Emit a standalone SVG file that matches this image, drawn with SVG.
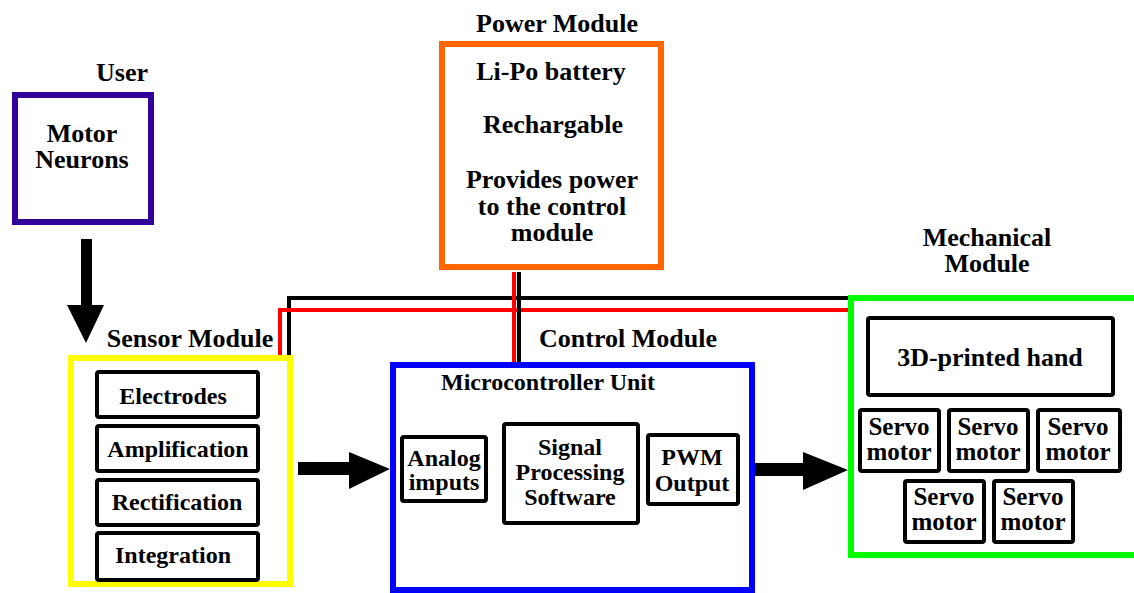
<svg xmlns="http://www.w3.org/2000/svg" width="1134" height="593" viewBox="0 0 1134 593">
<style>
text{font-family:"Liberation Serif","Times New Roman",serif;font-weight:bold;fill:#000;text-anchor:middle}
.h{font-size:26px}
.t{font-size:25px}
.s{font-size:24px}
.box{fill:#fff;stroke:#000;stroke-width:4}
.mod{fill:#fff;stroke-width:6}
.wb{fill:none;stroke:#000;stroke-width:4}
.wr{fill:none;stroke:#f00;stroke-width:4}
.arr{fill:#000}
</style>
<rect width="1134" height="593" fill="#fff"/>
<g id="connectors">
<polyline class="wb" points="289,355 289,298 851,298"/>
<polyline class="wr" points="280,355 280,310 851,310"/>
<line class="wb" x1="519" y1="272" x2="519" y2="362"/>
<line class="wr" x1="514" y1="272" x2="514" y2="362"/>
<polygon class="arr" points="81,239 92,239 92,305 104,305 86,343 67,305 81,305"/>
<polygon class="arr" points="298,462 349,462 349,452 390,469 349,489 349,475 298,475"/>
<polygon class="arr" points="755,463 803,463 803,452 848,470 803,490 803,476 755,476"/>
</g>
<g id="user">
<text class="h" x="122" y="81">User</text>
<rect class="mod" x="15" y="95" width="136" height="127" stroke="#330099"/>
<text class="h" x="82" y="142">Motor</text>
<text class="h" x="82" y="168">Neurons</text>
</g>
<g id="power">
<text class="h" x="557" y="32">Power Module</text>
<rect class="mod" x="442" y="44" width="219" height="223" stroke="#ff6600" stroke-width="8"/>
<text class="h" x="551" y="80">Li-Po battery</text>
<text class="h" x="553" y="133">Rechargable</text>
<text class="h" x="552" y="188">Provides power</text>
<text class="h" x="552" y="215">to the control</text>
<text class="h" x="552" y="241">module</text>
</g>
<g id="sensor">
<text class="h" x="190" y="347">Sensor Module</text>
<rect class="mod" x="71" y="358" width="219" height="226" stroke="#ffff00"/>
<rect class="box" x="97" y="372" width="161" height="45" rx="2"/>
<text class="s" x="173" y="404">Electrodes</text>
<rect class="box" x="97" y="426" width="161" height="45" rx="2"/>
<text class="s" x="178" y="457">Amplification</text>
<rect class="box" x="97" y="480" width="161" height="45" rx="2"/>
<text class="s" x="177" y="510">Rectification</text>
<rect class="box" x="97" y="533" width="161" height="47" rx="2"/>
<text class="s" x="173" y="563">Integration</text>
</g>
<g id="control">
<text class="h" x="628" y="347">Control Module</text>
<rect class="mod" x="393" y="365" width="359" height="225" stroke="#0000ff"/>
<text class="s" x="548" y="390">Microcontroller Unit</text>
<g id="analog">
<rect class="box" x="402" y="437" width="84" height="64" rx="2"/>
<text class="s" x="444" y="466">Analog</text>
<text class="s" x="444" y="490">imputs</text>
</g>
<g id="sps">
<rect class="box" x="504" y="424" width="134" height="99" rx="2"/>
<text class="s" x="570" y="455">Signal</text>
<text class="s" x="570" y="480">Processing</text>
<text class="s" x="570" y="505">Software</text>
</g>
<g id="pwm">
<rect class="box" x="648" y="435" width="90" height="69" rx="2"/>
<text class="s" x="692" y="465">PWM</text>
<text class="s" x="692" y="491">Output</text>
</g>
</g>
<g id="mechanical">
<text class="h" x="987" y="246">Mechanical</text>
<text class="h" x="987" y="272">Module</text>
<rect class="mod" x="851" y="298" width="287" height="257" stroke="#00ff00" stroke-width="7"/>
<rect class="box" x="868" y="318" width="245" height="77" rx="2"/>
<text class="h" x="990" y="366">3D-printed hand</text>
<g id="servo1"><rect class="box" x="860" y="410" width="79" height="61" rx="2"/><text class="t" x="899" y="435">Servo</text><text class="t" x="899" y="460">motor</text></g>
<g id="servo2"><rect class="box" x="949" y="410" width="79" height="61" rx="2"/><text class="t" x="988" y="435">Servo</text><text class="t" x="988" y="460">motor</text></g>
<g id="servo3"><rect class="box" x="1038" y="410" width="82" height="61" rx="2"/><text class="t" x="1078" y="435">Servo</text><text class="t" x="1078" y="460">motor</text></g>
<g id="servo4"><rect class="box" x="905" y="481" width="79" height="61" rx="2"/><text class="t" x="944" y="505">Servo</text><text class="t" x="944" y="530">motor</text></g>
<g id="servo5"><rect class="box" x="994" y="481" width="79" height="61" rx="2"/><text class="t" x="1033" y="505">Servo</text><text class="t" x="1033" y="530">motor</text></g>
</g>
</svg>
